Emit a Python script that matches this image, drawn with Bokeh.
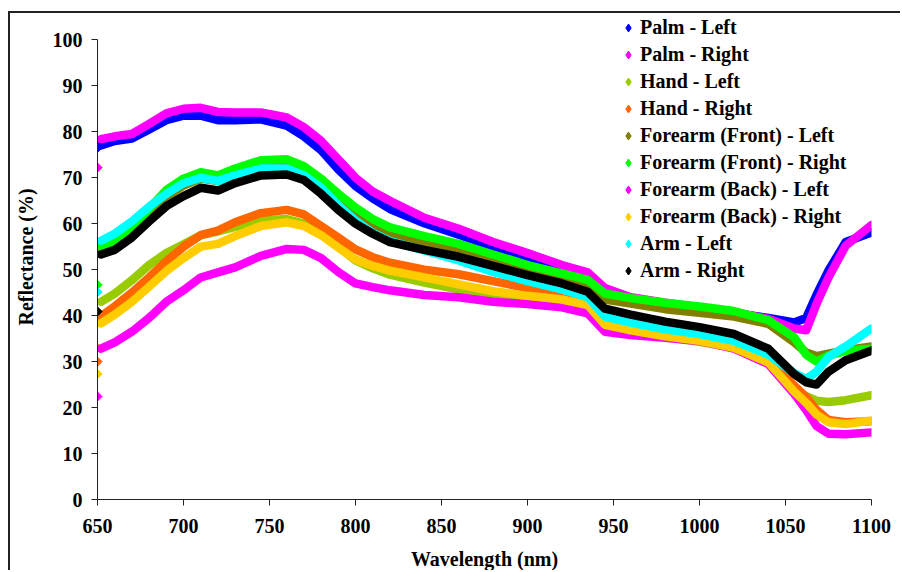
from bokeh.plotting import figure
from bokeh.models import Legend, LegendItem, Range1d, FixedTicker
from bokeh.embed import file_html
from bokeh.resources import INLINE
import math

wavelength = [650, 652, 660, 670, 680, 690, 700, 710, 720, 730,
              745, 760, 770, 780, 790, 800, 810, 820, 840, 860,
              880, 900, 920, 935, 945, 960, 980, 1000, 1020, 1040,
              1055, 1062, 1068, 1075, 1085, 1100]

palm_left = [76.5, 77, 78, 78.5, 80.5, 82.5, 83.5, 83.5, 82.5, 82.5,
             82.7, 81.3, 79, 76, 71.8, 68.2, 65.5, 63.2, 60.1, 57.6,
             55, 52.6, 50.2, 48.7, 45.3, 43.5, 42.3, 41.5, 40.5, 39.5,
             38.5, 39.5, 44.5, 49.8, 56, 58.1]
palm_right = [72.2, 78.4, 79, 79.5, 81.7, 84, 85, 85.2, 84.3, 84.2,
              84.2, 83.1, 81, 78, 74, 70, 67, 65, 61.3, 58.9,
              56, 53.6, 51, 49.4, 46, 44, 42.8, 41.8, 40.8, 39.3,
              37.2, 36.8, 42.5, 48.3, 55.2, 59.7]
hand_left = [33, 43, 44.8, 47.7, 51, 53.6, 55.5, 57.5, 58.3, 59.3,
             60.7, 61, 60, 58, 55, 52, 50.3, 48.9, 47.2, 45.7,
             44.3, 43.5, 42.9, 41.8, 37.5, 36.5, 35.3, 34.3, 33, 29.5,
             24, 22.5, 21.5, 21.2, 21.6, 22.7]
hand_right = [30, 39.8, 42, 45, 48.3, 51.8, 55, 57.5, 58.5, 60.3,
              62.3, 63, 62, 59.5, 57, 54.4, 52.7, 51.5, 50, 49,
              47.5, 46, 44.7, 43.5, 39, 37.8, 36.2, 35, 33.5, 30.3,
              24.8, 22.3, 19.5, 17.3, 16.8, 17]
forearm_front_left = [53.5, 54, 55.3, 58, 62, 65.8, 68.3, 69.8, 69.3, 71,
                      72.5, 72.8, 71.2, 68.6, 65.5, 62.3, 59.7, 57.8, 55.7, 53.8,
                      51.7, 49.8, 48, 46.5, 43.5, 42.6, 41.4, 40.6, 39.8, 38.2,
                      34.2, 32, 31.2, 31.7, 32.5, 33.3]
forearm_front_right = [46.7, 55, 56.3, 59, 63.3, 67.3, 69.8, 71.2, 70.5, 72,
                       73.8, 74, 72.5, 69.8, 66.5, 63.5, 61, 59.2, 57.3, 55.6,
                       53.3, 51, 49.2, 47.8, 44.8, 43.8, 42.8, 42, 41, 39,
                       35.3, 31.5, 30, 31.3, 32.3, 32.8]
forearm_back_left = [22.4, 32.8, 34.2, 36.5, 39.5, 43, 45.5, 48.3, 49.4, 50.5,
                     53, 54.5, 54.3, 52.5, 49.5, 47, 46.2, 45.5, 44.5, 44,
                     43, 42.5, 41.8, 40.5, 36.5, 35.8, 35.2, 34.5, 32.8, 29.5,
                     23, 19.5, 16, 14.3, 14.2, 14.6]
forearm_back_right = [27.3, 38.3, 40.2, 43, 46.3, 49.7, 52.5, 55, 55.6, 57.3,
                      59.5, 60.3, 59.5, 57.5, 54.8, 52.2, 50.8, 49.8, 48.3, 46.8,
                      45.3, 44.3, 43.5, 42.3, 38, 36.8, 35.5, 34.5, 33, 29.8,
                      23.5, 21, 18.5, 16.8, 16.4, 17.2]
arm_left = [45.1, 56.3, 57.8, 60.5, 63.7, 66.5, 68.8, 70, 69.3, 70.5,
            72, 72, 70.5, 67.8, 64, 60.7, 58, 56.2, 54.2, 52,
            49.5, 47.5, 45.7, 44, 39.8, 38.5, 37, 36, 34.5, 31.5,
            27.5, 26.2, 27.8, 31, 33.3, 37.2]
arm_right = [40.9, 53.3, 54.3, 57, 60.5, 63.8, 66, 67.8, 67.2, 68.8,
             70.5, 70.7, 69.5, 66.5, 63, 60, 57.8, 56, 54.3, 52.8,
             50.8, 48.8, 47, 45.2, 41.5, 40.2, 38.7, 37.5, 36, 32.8,
             27.3, 25.5, 25, 27.8, 30.3, 32.4]

series_names = ["Palm - Left", "Palm - Right", "Hand - Left", "Hand - Right",
                "Forearm (Front) - Left", "Forearm (Front) - Right",
                "Forearm (Back) - Left", "Forearm (Back) - Right",
                "Arm - Left", "Arm - Right"]
series_values = [palm_left, palm_right, hand_left, hand_right,
                 forearm_front_left, forearm_front_right,
                 forearm_back_left, forearm_back_right, arm_left, arm_right]
series_colors = ["#0000FF", "#FF00FF", "#99CC00", "#FF6600", "#808000",
                 "#00FF00", "#FF00FF", "#FFCC00", "#00FFFF", "#000000"]

x_ticks = [650, 700, 750, 800, 850, 900, 950, 1000, 1050, 1100]
y_ticks = [0, 10, 20, 30, 40, 50, 60, 70, 80, 90, 100]

FONT = "Liberation Serif"
FS = "20px"

p = figure(width=892, height=559, output_backend="svg", toolbar_location=None,
           x_range=Range1d(650, 1100), y_range=Range1d(0, 105.5),
           min_border_left=87, min_border_right=31, min_border_top=1,
           min_border_bottom=73)
p.styles = {"border-top": "2px solid #222222", "border-left": "2px solid #222222",
            "margin-top": "11px", "margin-left": "8px"}
p.outline_line_color = None
p.xgrid.visible = False
p.ygrid.visible = False

items = []
for name, vals, col in zip(series_names, series_values, series_colors):
    p.line(wavelength[1:], vals[1:], line_color=col, line_width=8.5,
           line_join="round", line_cap="round")
    leg = p.scatter([wavelength[0]], [vals[0]], marker="diamond", size=8,
                    fill_color=col, line_color=col)
    p.scatter([wavelength[0]], [vals[0]], marker="square", size=6.5,
              angle=math.pi / 4, fill_color=col, line_color=col)
    items.append(LegendItem(label=name, renderers=[leg]))

legend = Legend(items=items, location=(521, 215), orientation="vertical")
legend.padding = 0
legend.margin = 0
legend.spacing = 0
legend.glyph_width = 20
legend.glyph_height = 27
legend.label_height = 27
legend.label_standoff = 2
legend.label_text_font = FONT
legend.label_text_font_style = "bold"
legend.label_text_font_size = FS
legend.label_text_color = "#000000"
legend.border_line_color = None
legend.background_fill_alpha = 0
p.add_layout(legend, "center")

for ax in (p.xaxis[0], p.yaxis[0]):
    ax.axis_line_color = "#222222"
    ax.axis_line_width = 1
    ax.major_tick_line_color = "#222222"
    ax.major_tick_in = 0
    ax.major_tick_out = 6
    ax.minor_tick_out = 0
    ax.minor_tick_in = 0
    ax.major_label_text_font = FONT
    ax.major_label_text_font_style = "bold"
    ax.major_label_text_font_size = FS
    ax.major_label_text_color = "#000000"
    ax.axis_label_text_font = FONT
    ax.axis_label_text_font_style = "bold"
    ax.axis_label_text_font_size = FS
    ax.axis_label_text_color = "#000000"

p.xaxis.ticker = FixedTicker(ticks=x_ticks)
p.yaxis.ticker = FixedTicker(ticks=y_ticks)
p.yaxis.bounds = (0, 100)
p.xaxis.axis_label = "Wavelength (nm)"
p.yaxis.axis_label = "Reflectance (%)"
p.xaxis.major_label_standoff = 13
p.xaxis.axis_label_standoff = 12
p.yaxis.major_label_standoff = 9
p.yaxis.axis_label_standoff = 13

open("out.html", "w").write(file_html(p, INLINE))
